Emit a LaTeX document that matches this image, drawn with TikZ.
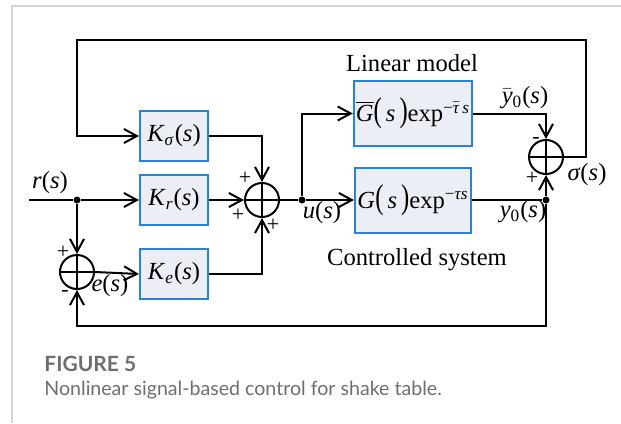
\documentclass[tikz,border=0pt]{standalone}
\usepackage{fontspec}
\setmainfont{Liberation Serif}
\newfontfamily\capfont{Lato}
\usepackage{graphicx}
\usepackage{xcolor}
\usepackage{tikz}
\usetikzlibrary{arrows.meta,positioning}
\definecolor{boxblue}{RGB}{40,130,215}
\definecolor{boxfill}{RGB}{236,238,245}
\definecolor{capgray}{RGB}{110,110,110}
\definecolor{framegray}{RGB}{212,212,212}
\newcommand{\tallpar}[1]{\scalebox{1}[1.4]{#1}}

\begin{document}
\begin{tikzpicture}[x=0.5pt, y=-0.5pt, every node/.style={font=\fontsize{12.3}{14}\selectfont}, block/.style={draw=boxblue, line width=1pt, fill=boxfill, minimum width=34pt, minimum height=25pt, inner sep=1pt}, plant/.style={block, minimum width=58pt, minimum height=32.5pt}, sumnode/.style={circle, draw, line width=1pt, minimum size=17pt, inner sep=0pt, path picture={\draw[line width=1pt] (path picture bounding box.north) -- (path picture bounding box.south) (path picture bounding box.west) -- (path picture bounding box.east);}}, dot/.style={circle, fill, inner sep=0pt, minimum size=3.5pt}, sgn/.style={font=\fontsize{11}{12}\selectfont, inner sep=0pt}, lbl/.style={inner sep=0pt}, capline/.style={anchor=base west, inner sep=0pt, text=capgray}, arr/.style={-{Straight Barb[length=6.5pt, width=7pt]}, line width=1pt}, plain/.style={line width=1pt}]
\useasboundingbox (0,0) rectangle (621,423);
\draw[framegray, line width=0.75pt] (12,423) -- (12,6) -- (621,6);
% controller blocks
\node[block] (kr) at (174,200) {\textit{K}\textsubscript{\textit{r}}(\textit{s})};
\node[block, above=6pt of kr] (ks) {\textit{K}\textsubscript{\textit{σ}}(\textit{s})};
\node[block, below=11pt of kr] (ke) {\textit{K}\textsubscript{\textit{e}}(\textit{s})};
\node[sumnode, right=17.5pt of kr] (sum) {};
\node[dot] (rdot) at (77,200) {};
\node[sumnode] (suml) at (77,272) {};
% plant and model
\node[dot] (udot) at (302,200) {};
\node[plant] (g) at (413,200) {\textit{G}\tallpar{(}\,\textit{s}\,\tallpar{)}exp\textsuperscript{−\textit{τs}}};
\node[plant] (gbar) at (413,113.5) {$\overline{\mbox{\textit{G}}}$\tallpar{(}\,\textit{s}\,\tallpar{)}exp\textsuperscript{−$\bar{\mbox{\textit{τ}}}$\,\textit{s}}};
\node[dot] (ydot) at (546,200) {};
\node[sumnode] (sumr) at (546,157) {};
% signal labels
\node[lbl] (rlab) at (50,183) {\textit{r}(\textit{s})};
\node[lbl] (ulab) at (322,213) {\textit{u}(\textit{s})};
\node[lbl] (elab) at (110,286) {\textit{e}(\textit{s})};
\node[lbl] (ybarlab) at (525,98) {$\bar{\mbox{\textit{y}}}$\textsubscript{0}(\textit{s})};
\node[lbl] (ylab) at (523,212) {\textit{y}\textsubscript{0}(\textit{s})};
\node[lbl] (siglab) at (587,175) {\textit{σ}(\textit{s})};
\node[lbl] (linlab) at (412,63) {Linear model};
\node[lbl] (ctrllab) at (417,260) {Controlled system};
% signs
\node[sgn] (p1) at (245,178) {+};
\node[sgn] (p2) at (238,215) {+};
\node[sgn] (p3) at (273,225) {+};
\node[sgn] (p4) at (63,252) {+};
\node[sgn] (m1) at (65,293) {-};
\node[sgn] (m2) at (536,140) {-};
\node[sgn] (p5) at (532,178) {+};
% caption
\node[capline, font=\capfont\bfseries\fontsize{10.5}{12}\selectfont] (figno) at (44,371) {FIGURE 5};
\node[capline, font=\capfont\fontsize{9.8}{12}\selectfont] (figcap) at (44,395) {Nonlinear signal-based control for shake table.};
% connectors
\coordinate (rin) at (29,200);
\coordinate (fbtop) at (586,40);
\coordinate (fbleft) at (77,40);
\coordinate (fbbot) at (546,326);
\draw[plain] (rin) -- (rdot);
\draw[arr] (rdot) -- (kr.west);
\draw[arr] (rdot) -- (suml.north);
\draw[arr] (suml.east) -- (ke.west);
\draw[arr] (ks.east) -| (sum.north);
\draw[arr] (kr.east) -- (sum.west);
\draw[arr] (ke.east) -| (sum.south);
\draw[plain] (sum.east) -- (udot);
\draw[arr] (udot) -- (g.west);
\draw[arr] (udot) |- (gbar.west);
\draw[arr] (gbar.east) -| (sumr.north);
\draw[plain] (g.east) -- (ydot);
\draw[arr] (ydot) -- (sumr.south);
\draw[arr] (ydot) -- (fbbot) -| (suml.south);
\draw[arr] (sumr.east) -| (fbtop) -- (fbleft) |- (ks.west);
\end{tikzpicture}
\end{document}
